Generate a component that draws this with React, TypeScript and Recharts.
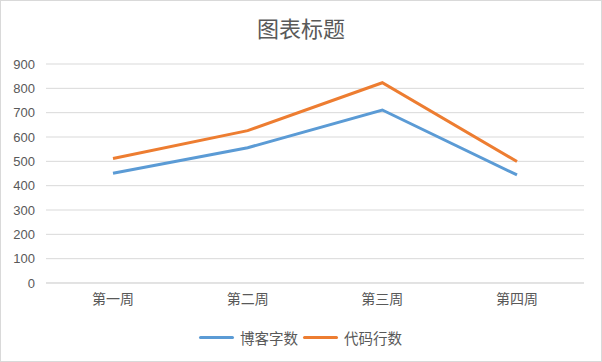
import React from 'react';
import { LineChart, Line, XAxis, YAxis, CartesianGrid, Legend } from 'recharts';

const weeks = ['第一周', '第二周', '第三周', '第四周'];
const blogWords = [451, 556, 711, 444];
const codeLines = [512, 626, 823, 499];
const yTicks = [0, 100, 200, 300, 400, 500, 600, 700, 800, 900];
const seriesNames = ['博客字数', '代码行数'];

const data = weeks.map((w, i) => ({ week: w, blog: blogWords[i], code: codeLines[i] }));

const textColor = '#595959';
const cjk = '"Noto Sans CJK SC", "Noto Sans", sans-serif';

const renderLegend = (props: any) => {
  const items = [...(props.payload || [])].sort(
    (a: any, b: any) => seriesNames.indexOf(a.value) - seriesNames.indexOf(b.value)
  );
  return (
    <div style={{ display: 'flex', justifyContent: 'center', alignItems: 'center', height: 20, paddingLeft: 4 }}>
      {items.map((it: any) => (
        <div key={it.value} style={{ display: 'flex', alignItems: 'center', marginRight: 5 }}>
          <span style={{ display: 'inline-block', width: 35, height: 3, background: it.color, borderRadius: 2, marginRight: 6 }} />
          <span style={{ fontFamily: cjk, fontSize: 14.5, color: textColor }}>{it.value}</span>
        </div>
      ))}
    </div>
  );
};

export default function App() {
  return (
    <div style={{ position: 'absolute', left: 0, top: 0, width: 600, height: 360, border: '1px solid #d9d9d9', background: '#fff' }}>
      <div style={{ position: 'absolute', top: 10, width: '100%', textAlign: 'center', fontFamily: cjk, fontSize: 22, color: textColor }}>
        图表标题
      </div>
      <LineChart width={600} height={360} data={data} margin={{ top: 63, right: 17, left: 0, bottom: 28 }}>
        <CartesianGrid vertical={false} stroke="#d9d9d9" />
        <XAxis
          dataKey="week"
          padding={{ left: 67, right: 67 }}
          axisLine={{ stroke: '#d9d9d9' }}
          tickLine={false}
          interval={0}
          tick={{ fontSize: 14, fill: textColor, fontFamily: cjk }}
          tickMargin={5}
        />
        <YAxis
          width={45}
          domain={[0, 900]}
          ticks={yTicks}
          interval={0}
          axisLine={false}
          tickLine={false}
          tickMargin={5}
          tick={{ fontSize: 13, fill: textColor, fontFamily: 'Liberation Sans, sans-serif' }}
        />
        <Legend verticalAlign="bottom" content={renderLegend} wrapperStyle={{ bottom: 14, left: 0, width: 600 }} />
        <Line dataKey="blog" name="博客字数" stroke="#5B9BD5" strokeWidth={3} dot={false} isAnimationActive={false} />
        <Line dataKey="code" name="代码行数" stroke="#ED7D31" strokeWidth={3} dot={false} isAnimationActive={false} />
      </LineChart>
    </div>
  );
}
